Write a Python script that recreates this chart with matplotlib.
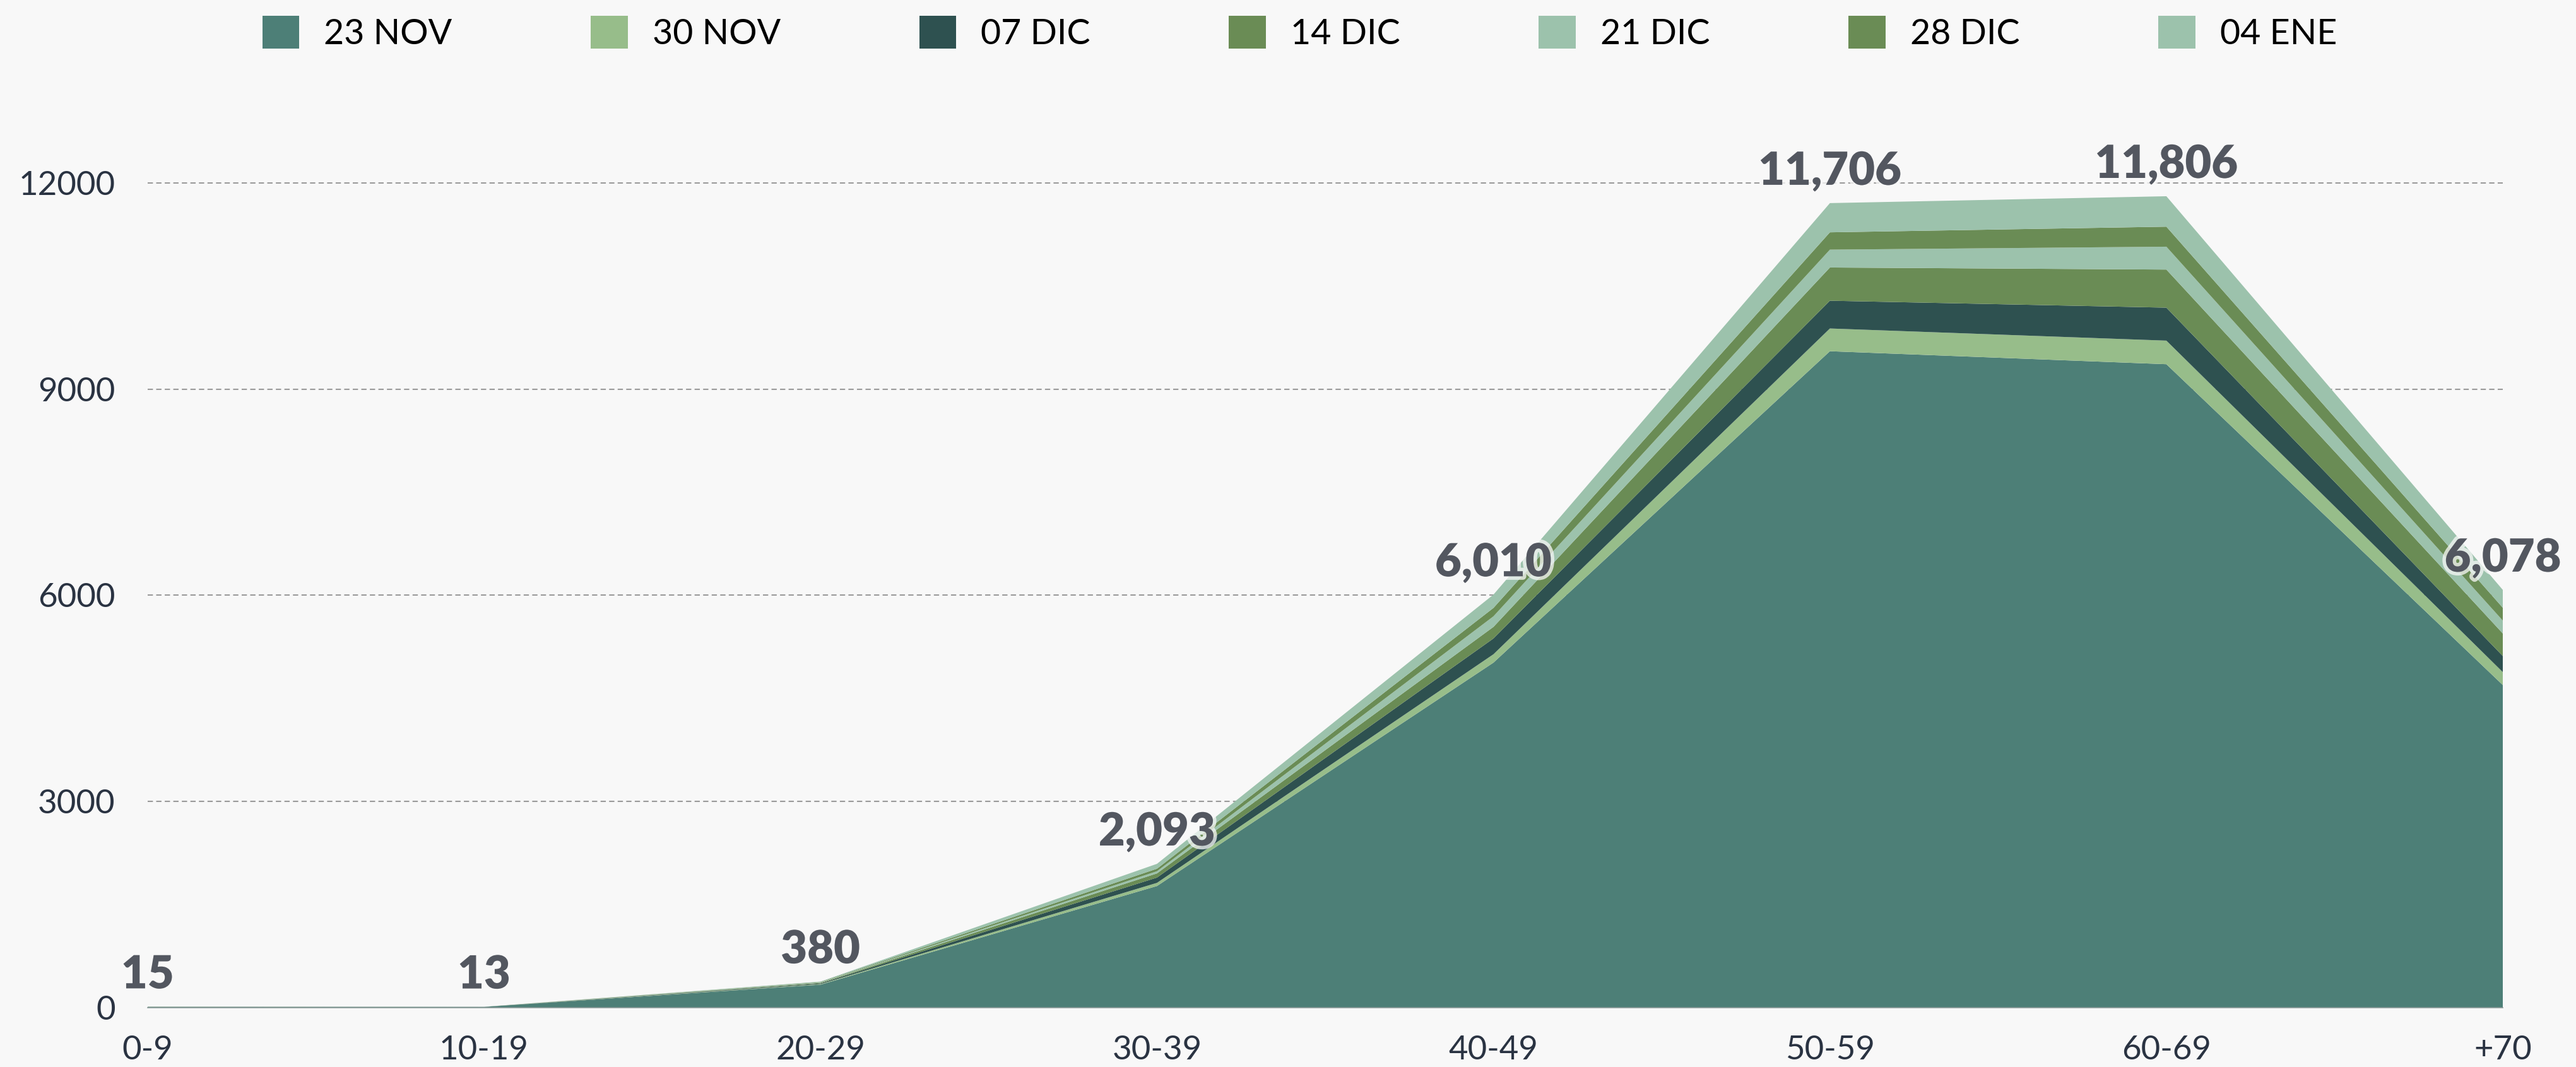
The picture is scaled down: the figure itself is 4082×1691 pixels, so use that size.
import matplotlib
matplotlib.use('Agg')
import matplotlib.pyplot as plt
import matplotlib.patheffects as pe
import numpy as np

grupos = ['0-9', '10-19', '20-29', '30-39', '40-49', '50-59', '60-69', '+70']
nov23 = [12, 11, 335, 1770, 5020, 9551, 9362, 4694]
nov30 = [1, 0, 8, 46, 122, 331, 343, 188]
dic07 = [1, 1, 10, 77, 230, 404, 480, 234]
dic14 = [0, 0, 8, 61, 168, 483, 554, 328]
dic21 = [0, 1, 6, 31, 154, 260, 333, 187]
dic28 = [1, 0, 6, 37, 122, 252, 291, 187]
ene04 = [0, 0, 7, 71, 194, 425, 443, 260]

series = ['23 NOV', '30 NOV', '07 DIC', '14 DIC', '21 DIC', '28 DIC', '04 ENE']
colores = ['#4d7f77', '#97bd8a', '#2e5150', '#6a8c55', '#9cc2ac', '#6a8c55', '#9cc2ac']

fondo = '#f8f8f8'
plt.rcParams['font.family'] = ['Lato', 'DejaVu Sans']

fig = plt.figure(figsize=(40.82, 16.91), dpi=100, facecolor=fondo)
ax = fig.add_axes([0.0573, 0.0556, 0.9143, 0.8374], facecolor=fondo)

x = np.arange(len(grupos))
datos = [nov23, nov30, dic07, dic14, dic21, dic28, ene04]
ax.stackplot(x, *datos, colors=colores, labels=series, linewidth=0)

# totales encima de cada grupo
totales = np.sum(datos, axis=0)
for xi, t in zip(x, totales):
    ax.annotate(f'{t:,}', (xi, t), xytext=(0, 36), textcoords='offset points',
                ha='center', va='center', fontsize=52, fontweight='heavy',
                color='#535760', annotation_clip=False,
                path_effects=[pe.withStroke(linewidth=8, foreground=fondo, alpha=0.75)])

ax.set_xlim(0, len(grupos) - 1)
ax.set_ylim(0, 13000)
ax.set_yticks([0, 3000, 6000, 9000, 12000])
ax.set_xticks(x)
ax.set_xticklabels(grupos)
ax.tick_params(axis='both', length=0, labelsize=38, colors='#2a3342')
ax.tick_params(axis='x', pad=32)
ax.tick_params(axis='y', pad=37)

ax.set_axisbelow(True)
ax.yaxis.grid(True, color='#9a9a9a', linewidth=1.5, linestyle=(0, (4, 2.5)))
for g in ax.get_ygridlines()[:1]:
    g.set_visible(False)

for s in ['top', 'right', 'left']:
    ax.spines[s].set_visible(False)
ax.spines['bottom'].set_color('#8a9a98')
ax.spines['bottom'].set_linewidth(1.2)

fig.legend(loc='center', bbox_to_anchor=(0.5045, 0.969), ncol=7, frameon=False,
           fontsize=40, handlelength=1.06, handleheight=1.06,
           handletextpad=0.7, columnspacing=3.95)

fig.savefig('out.png', dpi=100, facecolor=fondo)
